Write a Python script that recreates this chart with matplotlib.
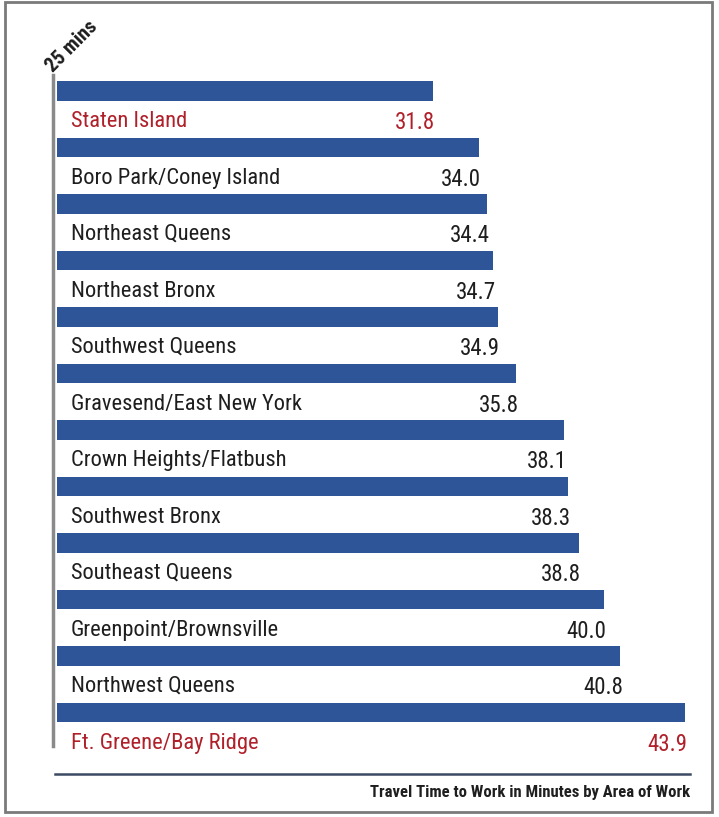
import matplotlib
matplotlib.use("Agg")
import matplotlib.pyplot as plt
from matplotlib.patches import Rectangle
from matplotlib.lines import Line2D
from matplotlib import font_manager

areas = ["Staten Island", "Boro Park/Coney Island", "Northeast Queens", "Northeast Bronx",
         "Southwest Queens", "Gravesend/East New York", "Crown Heights/Flatbush",
         "Southwest Bronx", "Southeast Queens", "Greenpoint/Brownsville",
         "Northwest Queens", "Ft. Greene/Bay Ridge"]
minutes = [31.8, 34.0, 34.4, 34.7, 34.9, 35.8, 38.1, 38.3, 38.8, 40.0, 40.8, 43.9]
highlight = ["Staten Island", "Ft. Greene/Bay Ridge"]
caption = "Travel Time to Work in Minutes by Area of Work"
axis_note = "25 mins"

# prefer a condensed sans face
installed = {f.name for f in font_manager.fontManager.ttflist}
FONT = next((f for f in ["Roboto Condensed", "Barlow Condensed", "Archivo Narrow",
                         "PT Sans Narrow", "Oswald", "DejaVu Sans"] if f in installed),
            "DejaVu Sans")

BAR = "#2e5597"
RED = "#b0202a"
INK = "#1e1e1e"

W, H = 719, 817
fig = plt.figure(figsize=(W / 100, H / 100), dpi=100)
fig.patch.set_facecolor("white")

def fx(px):
    return px / W

def fy(py):
    return 1 - py / H

# plotting area
left_px, right_px, top_px, bot_px = 57, 690, 75, 774
ax = fig.add_axes([fx(left_px), fy(bot_px), fx(right_px - left_px), (bot_px - top_px) / H])
ax.set_xlim(13.75, 13.75 + (right_px - left_px) / 20.83)
row = 56.5
ax.set_ylim((bot_px - 91) / row, -(91 - top_px) / row)
ax.axis("off")

for i, (name, val) in enumerate(zip(areas, minutes)):
    ax.barh(i, val, height=0.34, color=BAR, left=0)
    col = RED if name in highlight else INK
    ax.text(14.4, i + 0.54, name, ha="left", va="center", fontsize=16.2,
            family=FONT, color=col)
    ax.text(val + 0.12, i + 0.56, f"{val:.1f}", ha="right", va="center", fontsize=16.5,
            family=FONT, color=col)

# left axis rule
fig.add_artist(Line2D([fx(53), fx(53)], [fy(75), fy(746)], color="#8a8a8a", lw=2.5))
# bottom rule
fig.add_artist(Line2D([fx(55), fx(690)], [fy(774), fy(774)], color="#3c4a63", lw=1.8))

fig.text(fx(690), fy(793), caption, ha="right", va="center", fontsize=12,
         family=FONT, color=INK, fontweight="bold")
fig.text(fx(56), fy(76), axis_note, ha="left", va="bottom", rotation=45,
         rotation_mode="anchor", fontsize=14.5, family=FONT, color=INK, fontweight="bold")

# outer frame
fig.add_artist(Rectangle((fx(5), fy(812)), fx(707), (812 - 2) / H, fill=False,
                         edgecolor="#7a7a7a", lw=2, transform=fig.transFigure))

fig.savefig("out.png", dpi=100, facecolor="white")
